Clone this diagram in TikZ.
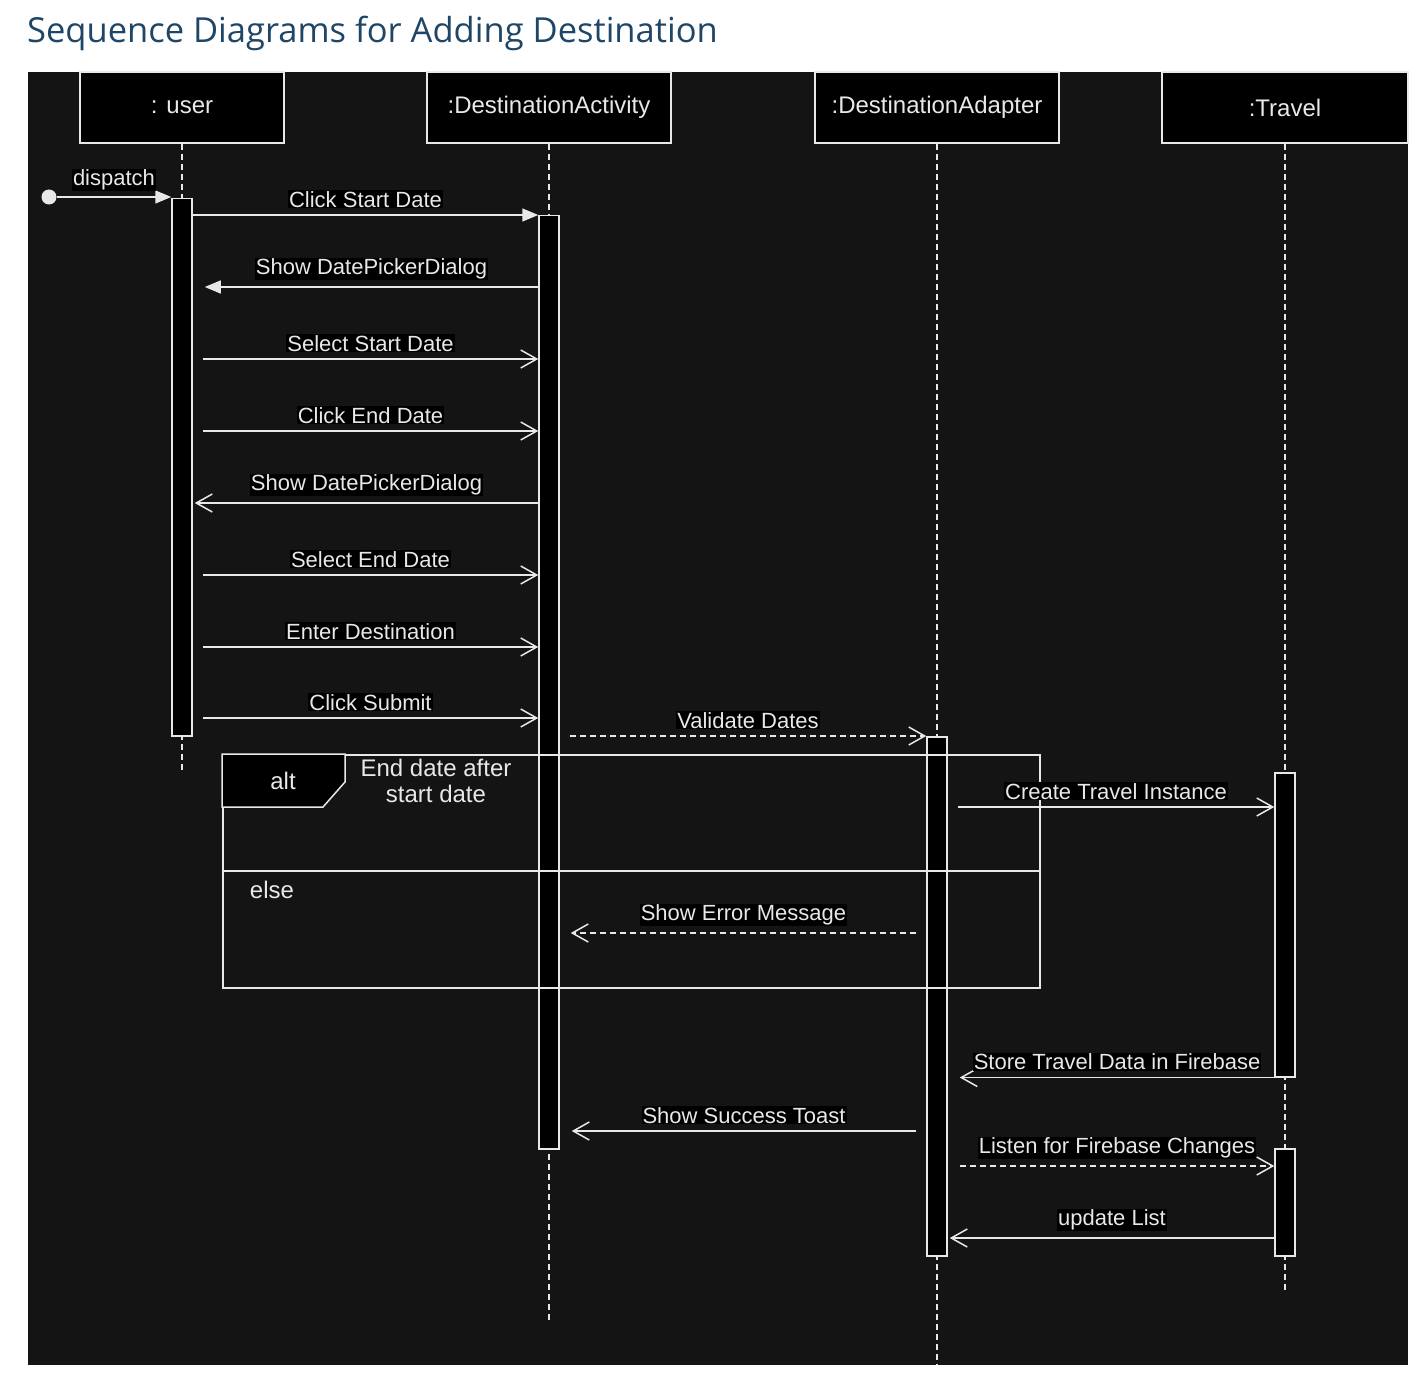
\documentclass[tikz,border=0pt]{standalone}
\usepackage{fontspec}
\setmainfont{Liberation Sans}
\newfontfamily\titlefont{Open Sans}
\usetikzlibrary{arrows.meta,positioning}
\definecolor{pagebg}{HTML}{141414}
\definecolor{ink}{HTML}{E8E8E8}
\definecolor{titleblue}{HTML}{1F4666}

\begin{document}
\begin{tikzpicture}[
		x=1pt, y=-1pt,
		head/.style={draw=ink, fill=black, text=ink, line width=1.5pt,
			minimum width=204, minimum height=71, font=\fontsize{24}{28}\selectfont},
		bar/.style={draw=ink, fill=black, line width=1.5pt, anchor=north,
			minimum width=20, inner sep=0pt},
		life/.style={draw=ink, line width=1.5pt, dash pattern=on 6pt off 4pt},
		sync/.style={draw=ink, line width=1.5pt, -{Triangle[length=16pt,width=13pt]}},
		msg/.style={draw=ink, line width=1.5pt, -{Straight Barb[length=16pt,width=18pt]}},
		reply/.style={msg, dash pattern=on 6pt off 4pt},
		lbl/.style={fill=black, text=ink, inner sep=1pt, font=\fontsize{22}{26}\selectfont},
		frametext/.style={text=ink, font=\fontsize{24}{26}\selectfont, align=center}
		]
		\useasboundingbox (0,0) rectangle (1420,1396);
		\node[anchor=west, text=titleblue, inner sep=0pt, font=\titlefont\fontsize{34.5}{40}\selectfont]
			(title) at (27,33) {Sequence Diagrams for Adding Destination};
		\fill[pagebg] (28,72) rectangle (1408,1365);
		
		% lifeline heads
		\node[head] (user) at (182,107.5) {: user};
		\node[head, minimum width=244] (act) at (549,107.5) {:DestinationActivity};
		\node[head, minimum width=244] (adp) at (937,107.5) {:DestinationAdapter};
		\node[head, minimum width=246] (trv) at (1285,107.5) {:Travel};
		
		\coordinate (uend) at (182,772);
		\coordinate (aend) at (549,1322);
		\coordinate (dend) at (937,1365);
		\coordinate (tend) at (1285,1290);
		\draw[life] (user) -- (uend);
		\draw[life] (act) -- (aend);
		\draw[life] (adp) -- (dend);
		\draw[life] (trv) -- (tend);
		
		% activations
		\node[bar, minimum height=537] (ua) at (182,198) {};
		\node[bar, minimum height=933] (aa) at (549,215) {};
		\node[bar, minimum height=519] (da) at (937,736) {};
		\node[bar, minimum height=304] (ta1) at (1285,772) {};
		\node[bar, minimum height=107] (ta2) at (1285,1148) {};
		
		% alt fragment
		\node[draw=ink, line width=1.5pt, anchor=north west, minimum width=817,
			minimum height=233, inner sep=0pt] (alt) at (222,754) {};
		\draw[ink, line width=1.5pt] (alt.west |- 0,871) -- (alt.east |- 0,871);
		\draw[ink, fill=black, line width=1.5pt] (222,754) -- (345,754) -- (345,782)
			-- (323,807) -- (222,807) -- cycle;
		\node[frametext] (altname) at (283,781) {alt};
		\node[frametext, inner sep=0pt] (guard) at (436,781) {End date after\\start date};
		\node[frametext] (elsename) at (272,890) {else};
		
		% messages
		\node[circle, fill=ink, minimum size=15, inner sep=0pt] (start) at (49,197) {};
		\draw[sync] (start) -- (ua.west |- start) node[lbl, midway, above=5pt] {dispatch};
		\draw[sync] (ua.east |- 0,215) -- (aa.west |- 0,215)
			node[lbl, midway, above=6pt] {Click Start Date};
		\draw[sync] (aa.west |- 0,287) -- ([xshift=12pt]ua.east |- 0,287)
			node[lbl, midway, above=6pt] {Show DatePickerDialog};
		\draw[msg] ([xshift=10pt]ua.east |- 0,359) -- (aa.west |- 0,359)
			node[lbl, midway, above=6pt] {Select Start Date};
		\draw[msg] ([xshift=10pt]ua.east |- 0,431) -- (aa.west |- 0,431)
			node[lbl, midway, above=6pt] {Click End Date};
		\draw[msg] (aa.west |- 0,503) -- ([xshift=2pt]ua.east |- 0,503)
			node[lbl, midway, above=6pt] {Show DatePickerDialog};
		\draw[msg] ([xshift=10pt]ua.east |- 0,575) -- (aa.west |- 0,575)
			node[lbl, midway, above=6pt] {Select End Date};
		\draw[msg] ([xshift=10pt]ua.east |- 0,647) -- (aa.west |- 0,647)
			node[lbl, midway, above=6pt] {Enter Destination};
		\draw[msg] ([xshift=10pt]ua.east |- 0,718) -- (aa.west |- 0,718)
			node[lbl, midway, above=6pt] {Click Submit};
		\draw[reply] ([xshift=10pt]aa.east |- 0,736) -- (da.west |- 0,736)
			node[lbl, midway, above=6pt] {Validate Dates};
		\draw[msg] ([xshift=10pt]da.east |- 0,807) -- (ta1.west |- 0,807)
			node[lbl, midway, above=6pt] {Create Travel Instance};
		\draw[reply] ([xshift=-10pt]da.west |- 0,933) -- ([xshift=11pt]aa.east |- 0,933)
			node[lbl, midway, above=6pt] {Show Error Message};
		\draw[msg] (ta1.south west) -- ([xshift=12pt]da.east |- ta1.south)
			node[lbl, midway, above=6pt] {Store Travel Data in Firebase};
		\draw[msg] ([xshift=-10pt]da.west |- 0,1131) -- ([xshift=12pt]aa.east |- 0,1131)
			node[lbl, midway, above=6pt] {Show Success Toast};
		\draw[reply] ([xshift=12pt]da.east |- 0,1166) -- (ta2.west |- 0,1166)
			node[lbl, midway, above=6pt] {Listen for Firebase Changes};
		\draw[msg] (ta2.west |- 0,1238) -- ([xshift=2pt]da.east |- 0,1238)
			node[lbl, midway, above=6pt] {update List};
	\end{tikzpicture}
\end{document}
